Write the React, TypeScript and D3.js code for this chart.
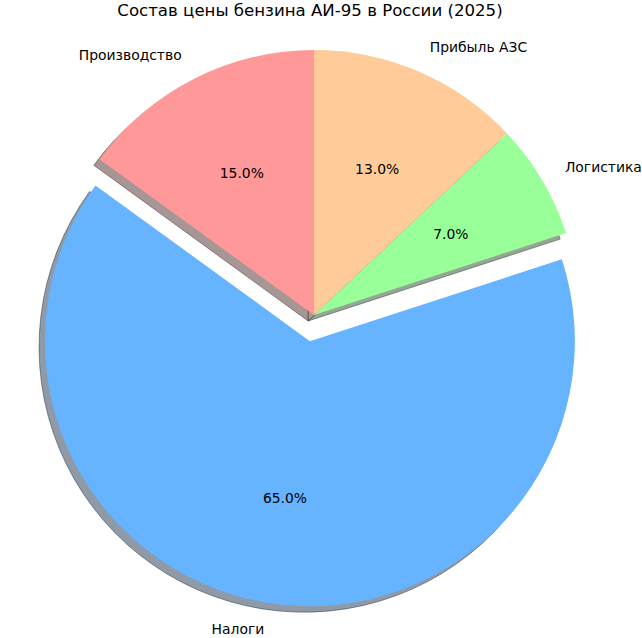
import React from "react";
import * as d3 from "d3";

const labels = ["Производство", "Налоги", "Логистика", "Прибыль АЗС"];
const shares = [15, 65, 7, 13];
const colors = ["#ff9999", "#66b3ff", "#99ff99", "#ffcc99"];
const explode = [0, 0.1, 0, 0];

const title = "Состав цены бензина АИ-95 в России (2025)";

const width = 642;
const height = 638;
const cx = 314;
const cy = 315;
const radius = 265;
const shadowOffset = { x: -5.8, y: 6 };

// matplotlib shadow: 0.3 * facecolor, alpha 0.5
const shadowColor = (c: string) => {
  const rgb = d3.rgb(c);
  return d3.rgb(rgb.r * 0.3, rgb.g * 0.3, rgb.b * 0.3).formatHex();
};

const App: React.FC = () => {
  const pie = d3
    .pie<number>()
    .sort(null)
    .value((d) => d)
    .startAngle(0)
    .endAngle(-2 * Math.PI);

  const arcs = pie(shares);
  const arc = d3.arc<d3.PieArcDatum<number>>().innerRadius(0).outerRadius(radius);

  const items = arcs.map((a, i) => {
    const mid = (a.startAngle + a.endAngle) / 2;
    const ux = Math.sin(mid);
    const uy = -Math.cos(mid);
    const ox = cx + ux * explode[i] * radius;
    const oy = cy + uy * explode[i] * radius;
    return { a, i, ux, uy, ox, oy };
  });

  return (
    <svg
      width={width}
      height={height}
      style={{ position: "absolute", left: 0, top: 0, background: "#fff" }}
      fontFamily="DejaVu Sans, sans-serif"
    >
      <text x={310} y={16} textAnchor="middle" fontSize={16.6} fill="#000">
        {title}
      </text>

      <g>
        {items.map(({ a, i, ox, oy }) => (
          <path
            key={"s" + i}
            d={arc(a) || ""}
            transform={`translate(${ox + shadowOffset.x},${oy + shadowOffset.y})`}
            fill={shadowColor(colors[i])}
            fillOpacity={0.5}
            stroke={shadowColor(colors[i])}
            strokeOpacity={0.5}
            strokeWidth={1}
          />
        ))}
      </g>

      <g>
        {items.map(({ a, i, ox, oy }) => (
          <path key={"w" + i} d={arc(a) || ""} transform={`translate(${ox},${oy})`} fill={colors[i]} />
        ))}
      </g>

      <g fontSize={13.9} fill="#000">
        {items.map(({ i, ux, uy, ox, oy }) => (
          <text
            key={"l" + i}
            x={ox + ux * radius * 1.1}
            y={oy + uy * radius * 1.1}
            textAnchor={ux >= 0 ? "start" : "end"}
            dominantBaseline="central"
          >
            {labels[i]}
          </text>
        ))}
        {items.map(({ i, ux, uy, ox, oy }) => (
          <text
            key={"p" + i}
            x={ox + ux * radius * 0.6}
            y={oy + uy * radius * 0.6}
            textAnchor="middle"
            dominantBaseline="central"
          >
            {shares[i].toFixed(1)}%
          </text>
        ))}
      </g>
    </svg>
  );
};

export default App;
